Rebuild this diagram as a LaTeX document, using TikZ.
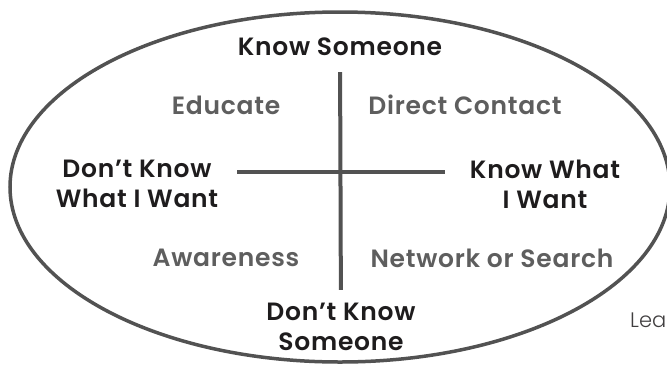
\documentclass[tikz,border=0pt]{standalone}
\usepackage{fontspec}
\setmainfont{Poppins}[BoldFont=* SemiBold, LetterSpace=3]
\newfontfamily\lightfont{Poppins}[UprightFont=* Light]
\usetikzlibrary{positioning}
\definecolor{rim}{HTML}{525252}
\definecolor{ink}{HTML}{1E1C1D}
\definecolor{soft}{HTML}{5E5E5E}
\tikzstyle{axis} = [draw=rim, line width=4pt]
\tikzstyle{pole} = [text=ink, align=center, inner sep=0pt, font=\bfseries\fontsize{25}{30}\selectfont]
\tikzstyle{quadrant} = [text=soft, inner sep=0pt, font=\bfseries\fontsize{25}{30}\selectfont]

\begin{document}
\begin{tikzpicture}[x=1pt, y=-1pt]
        \useasboundingbox (0,0) rectangle (667,365);
        \draw[rim, line width=3.5pt] (340,187) ellipse [x radius=330pt, y radius=175pt];
        \coordinate (mid) at (340,172);
        % the four poles
        \node[pole] (knowsome) at (340,47) {Know Someone};
        \node[pole] (dontsome) at (341,327) {Don’t Know\\Someone};
        \node[pole] (dontwant) at (137,184) {Don’t Know\\What I Want};
        \node[pole] (knowwant) at (545,184) {Know What\\I Want};
        % the four quadrants
        \node[quadrant] (educate) at (226,105) {Educate};
        \node[quadrant] (contact) at (465,105) {Direct Contact};
        \node[quadrant] (aware) at (226,258) {Awareness};
        \node[quadrant] (network) at (492,258) {Network or Search};
        \node[anchor=base west, inner sep=0pt, text=ink!85, font=\lightfont\fontsize{21}{25}\selectfont] (lea) at (630,327) {Lea};
        \path[axis, shorten <=16pt, shorten >=13pt] (knowsome) -- (dontsome);
        \path[axis, shorten <=19pt, shorten >=25pt] (dontwant.east |- mid) -- (knowwant.west |- mid);
    \end{tikzpicture}
\end{document}
